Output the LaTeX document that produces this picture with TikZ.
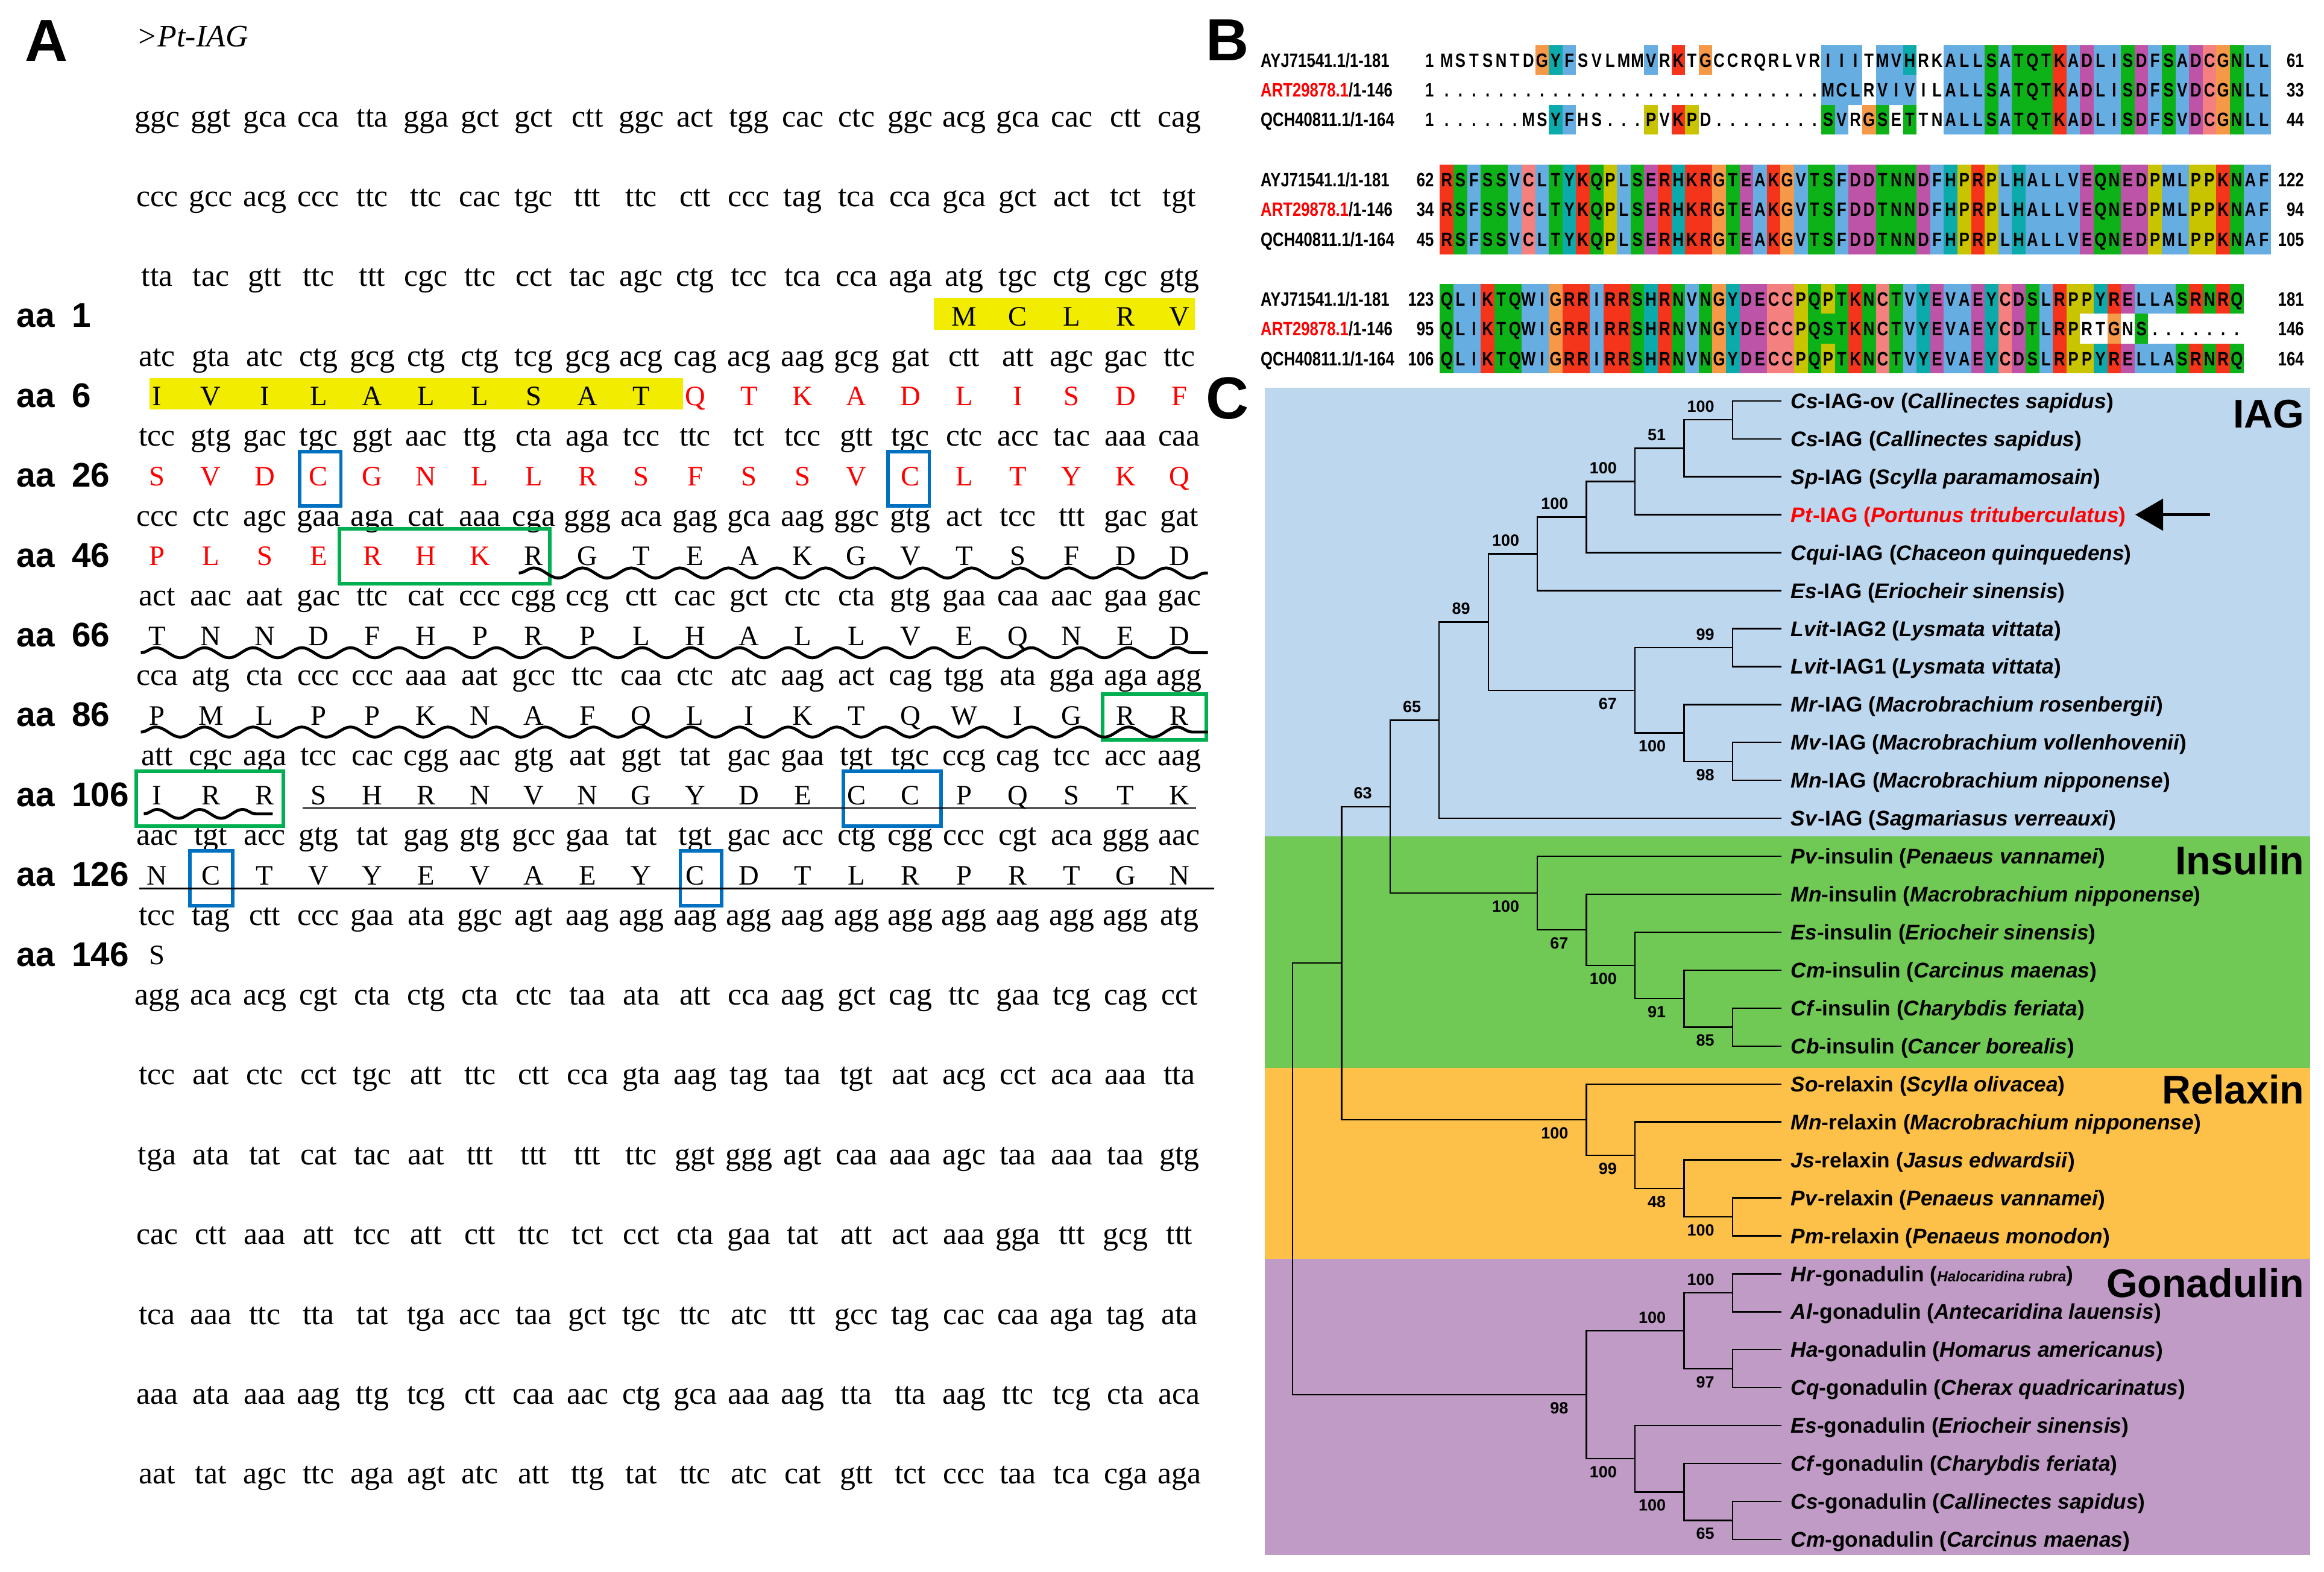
\documentclass[tikz,border=0pt]{standalone}
\usepackage{fontspec}
\setmainfont{Liberation Serif}
\newfontfamily\sansf{Liberation Sans}
\newfontfamily\alnf[FakeStretch=0.8]{Liberation Sans Bold}
\usetikzlibrary{positioning, arrows.meta, decorations.pathmorphing}

\definecolor{hlyellow}{RGB}{242,236,0}
\definecolor{boxblue}{RGB}{0,112,192}
\definecolor{boxgreen}{RGB}{0,176,80}
\definecolor{alnb}{RGB}{102,173,226}
\definecolor{alnr}{RGB}{245,52,28}
\definecolor{alng}{RGB}{12,178,24}
\definecolor{alnm}{RGB}{190,84,168}
\definecolor{alnp}{RGB}{245,128,128}
\definecolor{alno}{RGB}{245,152,72}
\definecolor{alny}{RGB}{200,196,0}
\definecolor{alnc}{RGB}{12,170,170}
\definecolor{iagbg}{RGB}{189,215,238}
\definecolor{insbg}{RGB}{112,200,85}
\definecolor{relbg}{RGB}{253,192,72}
\definecolor{gonbg}{RGB}{191,155,197}

% protein row under codon row #1: first column, red columns from-to, residues
\newcommand\aarow[5]{%
  \foreach \aares [count=\i from #2] in {#5} {%
    \ifnum\i<#3 \def\aacol{black}\else\ifnum\i>#4 \def\aacol{black}\else\def\aacol{red}\fi\fi
    \node[aa, text=\aacol] (a#1-\i) at ({106+(\i-1)*36.3},{105.9+(#1-1)*53.85}) {\aares};}}

\makeatletter
% alignment row: id, y, name, first, last, residues, colour codes
\newcommand\alnrow[7]{%
  \def\alnk{0}%
  \@tfor\alncode:=#7\do{%
    \edef\alnk{\the\numexpr\alnk+1\relax}%
    \if\alncode-\else
      \fill[fill=aln\alncode] ({971.5+(\alnk-1)*9.19},{#2-10.05}) rectangle ++(9.19,20.1);
    \fi}%
  \def\alnk{0}%
  \@tfor\alncode:=#6\do{%
    \edef\alnk{\the\numexpr\alnk+1\relax}%
    \node[res] (#1-\alnk) at ({971.5+(\alnk-0.5)*9.19},#2) {\alncode};}%
  \node[seqname] (#1-name) at (850.3,#2) {#3};
  \node[seqnum] (#1-first) at (967.7,#2) {#4};
  \node[seqnum] (#1-last) at (1554.7,#2) {#5};}
\makeatother

\begin{document}
\begin{tikzpicture}[x=0.025cm, y=-0.025cm,
  panel/.style={font=\sansf\bfseries\fontsize{28.5}{30}\selectfont, inner sep=0, text height=20.4pt, text depth=0pt},
  title/.style={font=\itshape\fontsize{15}{18}\selectfont, anchor=west, inner sep=0, text height=9.9pt, text depth=0pt},
  codon/.style={font=\fontsize{15}{18}\selectfont, inner sep=0, text height=6.9pt, text depth=0pt},
  aa/.style={font=\fontsize{13.5}{16}\selectfont, inner sep=0, text height=8.9pt, text depth=0pt},
  aalab/.style={font=\sansf\bfseries\fontsize{16.4}{18}\selectfont, anchor=west, inner sep=0, text height=11.7pt, text depth=0pt},
  hl/.style={fill=hlyellow},
  bbox/.style={draw=boxblue, line width=1.7pt},
  gbox/.style={draw=boxgreen, line width=1.7pt},
  wavy/.style={decorate, decoration={snake, segment length=0.82cm, amplitude=0.085cm}, line width=1.4pt},
  res/.style={font=\alnf\fontsize{9.3}{11}\selectfont, inner sep=0, text height=6.7pt, text depth=0pt},
  seqname/.style={font=\alnf\fontsize{9.3}{11}\selectfont, anchor=west, inner sep=0, text height=6.7pt, text depth=0pt},
  seqnum/.style={font=\alnf\fontsize{9.3}{11}\selectfont, anchor=east, inner sep=0, text height=6.7pt, text depth=0pt},
  leaf/.style={font=\sansf\bfseries\fontsize{10.2}{12}\selectfont, anchor=west, inner xsep=0.15cm, inner ysep=0, text height=7.3pt, text depth=0pt},
  boot/.style={font=\sansf\bfseries\fontsize{7.8}{9}\selectfont, inner sep=0, node distance=0.12cm and 0.3cm},
  branch/.style={line width=0.7pt},
  group/.style={font=\sansf\bfseries\fontsize{19.2}{21}\selectfont, anchor=east, inner sep=0, text height=13.7pt, text depth=0pt},
  ptarr/.style={-{Triangle[length=0.47cm,width=0.53cm]}, line width=1.6pt}]

\fill[white] (0,0) rectangle (1568,1060);
\useasboundingbox (0,0) rectangle (1568,1060);

% ---------------- A
\node[panel] (pa) at (31.5,27) {A};
\node[title] (ttl) at (92,24.5) {>Pt-IAG};

\fill[hl] (630,201.1) rectangle (806,222.4);
\fill[hl] (101,255) rectangle (461,276.3);

\foreach \cods [count=\rw] in {
  {ggc,ggt,gca,cca,tta,gga,gct,gct,ctt,ggc,act,tgg,cac,ctc,ggc,acg,gca,cac,ctt,cag},
  {ccc,gcc,acg,ccc,ttc,ttc,cac,tgc,ttt,ttc,ctt,ccc,tag,tca,cca,gca,gct,act,tct,tgt},
  {tta,tac,gtt,ttc,ttt,cgc,ttc,cct,tac,agc,ctg,tcc,tca,cca,aga,atg,tgc,ctg,cgc,gtg},
  {atc,gta,atc,ctg,gcg,ctg,ctg,tcg,gcg,acg,cag,acg,aag,gcg,gat,ctt,att,agc,gac,ttc},
  {tcc,gtg,gac,tgc,ggt,aac,ttg,cta,aga,tcc,ttc,tct,tcc,gtt,tgc,ctc,acc,tac,aaa,caa},
  {ccc,ctc,agc,gaa,aga,cat,aaa,cga,ggg,aca,gag,gca,aag,ggc,gtg,act,tcc,ttt,gac,gat},
  {act,aac,aat,gac,ttc,cat,ccc,cgg,ccg,ctt,cac,gct,ctc,cta,gtg,gaa,caa,aac,gaa,gac},
  {cca,atg,cta,ccc,ccc,aaa,aat,gcc,ttc,caa,ctc,atc,aag,act,cag,tgg,ata,gga,aga,agg},
  {att,cgc,aga,tcc,cac,cgg,aac,gtg,aat,ggt,tat,gac,gaa,tgt,tgc,ccg,cag,tcc,acc,aag},
  {aac,tgt,acc,gtg,tat,gag,gtg,gcc,gaa,tat,tgt,gac,acc,ctg,cgg,ccc,cgt,aca,ggg,aac},
  {tcc,tag,ctt,ccc,gaa,ata,ggc,agt,aag,agg,aag,agg,aag,agg,agg,agg,aag,agg,agg,atg},
  {agg,aca,acg,cgt,cta,ctg,cta,ctc,taa,ata,att,cca,aag,gct,cag,ttc,gaa,tcg,cag,cct},
  {tcc,aat,ctc,cct,tgc,att,ttc,ctt,cca,gta,aag,tag,taa,tgt,aat,acg,cct,aca,aaa,tta},
  {tga,ata,tat,cat,tac,aat,ttt,ttt,ttt,ttc,ggt,ggg,agt,caa,aaa,agc,taa,aaa,taa,gtg},
  {cac,ctt,aaa,att,tcc,att,ctt,ttc,tct,cct,cta,gaa,tat,att,act,aaa,gga,ttt,gcg,ttt},
  {tca,aaa,ttc,tta,tat,tga,acc,taa,gct,tgc,ttc,atc,ttt,gcc,tag,cac,caa,aga,tag,ata},
  {aaa,ata,aaa,aag,ttg,tcg,ctt,caa,aac,ctg,gca,aaa,aag,tta,tta,aag,ttc,tcg,cta,aca},
  {aat,tat,agc,ttc,aga,agt,atc,att,ttg,tat,ttc,atc,cat,gtt,tct,ccc,taa,tca,cga,aga}}
  \foreach \cd [count=\i] in \cods
    \node[codon] (d\rw-\i) at ({106+(\i-1)*36.3},{80.6+(\rw-1)*53.85}) {\cd};

\aarow{3}{16}{0}{0}{M,C,L,R,V}
\aarow{4}{1}{11}{20}{I,V,I,L,A,L,L,S,A,T,Q,T,K,A,D,L,I,S,D,F}
\aarow{5}{1}{1}{20}{S,V,D,C,G,N,L,L,R,S,F,S,S,V,C,L,T,Y,K,Q}
\aarow{6}{1}{1}{7}{P,L,S,E,R,H,K,R,G,T,E,A,K,G,V,T,S,F,D,D}
\aarow{7}{1}{0}{0}{T,N,N,D,F,H,P,R,P,L,H,A,L,L,V,E,Q,N,E,D}
\aarow{8}{1}{0}{0}{P,M,L,P,P,K,N,A,F,Q,L,I,K,T,Q,W,I,G,R,R}
\aarow{9}{1}{0}{0}{I,R,R,S,H,R,N,V,N,G,Y,D,E,C,C,P,Q,S,T,K}
\aarow{10}{1}{0}{0}{N,C,T,V,Y,E,V,A,E,Y,C,D,T,L,R,P,R,T,G,N}
\aarow{11}{1}{0}{0}{S}

\node[aalab] (aa1) at (11,212.6) {aa\enspace 1};
\node[aalab] (aa6) at (11,266.45) {aa\enspace 6};
\node[aalab] (aa26) at (11,320.3) {aa\enspace 26};
\node[aalab] (aa46) at (11,374.15) {aa\enspace 46};
\node[aalab] (aa66) at (11,428) {aa\enspace 66};
\node[aalab] (aa86) at (11,481.85) {aa\enspace 86};
\node[aalab] (aa106) at (11,535.7) {aa\enspace 106};
\node[aalab] (aa126) at (11,589.55) {aa\enspace 126};
\node[aalab] (aa146) at (11,643.4) {aa\enspace 146};

% boxes and lines
\draw[bbox] (202,304.5) rectangle (230,341.3);
\draw[bbox] (599,304.5) rectangle (627,341.3);
\draw[gbox] (229,356.8) rectangle (371,393.8);
\draw[gbox] (744,468) rectangle (814,499.1);
\draw[gbox] (92,520.2) rectangle (191,557.2);
\draw[bbox] (569,520.2) rectangle (635,557.2);
\draw[bbox] (128,574) rectangle (157,611);
\draw[bbox] (459,574) rectangle (487,611);

\draw[wavy] (350,386.5) -- (815,386.5);
\draw[wavy] (95,440.3) -- (815,440.3);
\draw[wavy] (95,493.8) -- (815,493.8);
\draw[wavy, decoration={segment length=0.72cm, amplitude=0.075cm}] (97,549) -- (184,549);
\draw[line width=0.6pt] (204,545) -- (807,545);
\draw[line width=0.9pt] (94,599.3) -- (819,599.3);

% ---------------- B
\node[panel] (pb) at (828,26.5) {B};

\alnrow{s1}{40.5}{AYJ71541.1/1-181}{1}{61}{MSTSNTDGYFSVLMMVRKTGCCRQRLVRIIITMVHRKALLSATQTKADLISDFSADCGNLL}{-------ocb-----b-r-o--------bbb-bbc--bbbgbgggrbmbbgmbgbmpogbb}
\alnrow{s2}{60.6}{{\color{red}ART29878.1}/1-146}{1}{33}{............................MCLRVIVILALLSATQTKADLISDFSVDCGNLL}{----------------------------bbb-bbb--bbbgbgggrbmbbgmbgbmpogbb}
\alnrow{s3}{80.7}{QCH40811.1/1-164}{1}{44}{......MSYFHS...PVKPD........SVRGSETTNALLSATQTKADLISDFSVDCGNLL}{--------cb-----y-ry---------gb-og-g--bbbgbgggrbmbbgmbgbmpogbb}

\alnrow{t1}{121.2}{AYJ71541.1/1-181}{62}{122}{RSFSSVCLTYKQPLSERHKRGTEAKGVTSFDDTNNDFHPRPLHALLVEQNEDPMLPPKNAF}{rgbggbpbgcrgybgmrcrrogmbrobggbmmgggmbcyrybcbbbbmggmmybbyyrgbb}
\alnrow{t2}{141.3}{{\color{red}ART29878.1}/1-146}{34}{94}{RSFSSVCLTYKQPLSERHKRGTEAKGVTSFDDTNNDFHPRPLHALLVEQNEDPMLPPKNAF}{rgbggbpbgcrgybgmrcrrogmbrobggbmmgggmbcyrybcbbbbmggmmybbyyrgbb}
\alnrow{t3}{161.4}{QCH40811.1/1-164}{45}{105}{RSFSSVCLTYKQPLSERHKRGTEAKGVTSFDDTNNDFHPRPLHALLVEQNEDPMLPPKNAF}{rgbggbpbgcrgybgmrcrrogmbrobggbmmgggmbcyrybcbbbbmggmmybbyyrgbb}

\alnrow{u1}{201.6}{AYJ71541.1/1-181}{123}{181}{QLIKTQWIGRRIRRSHRNVNGYDECCPQPTKNCTVYEVAEYCDSLRPPYRELLASRNRQ}{gbbrggbborrbrrgcrgbgocmmppygygrgpgbcmbbmcpmgbryycrmbbbgrgrg}
\alnrow{u2}{221.7}{{\color{red}ART29878.1}/1-146}{95}{146}{QLIKTQWIGRRIRRSHRNVNGYDECCPQSTKNCTVYEVAEYCDTLRPRTGNS.......}{gbbrggbborrbrrgcrgbgocmmppygggrgpgbcmbbmcpmgbry--o-g-------}
\alnrow{u3}{241.8}{QCH40811.1/1-164}{106}{164}{QLIKTQWIGRRIRRSHRNVNGYDECCPQPTKNCTVYEVAEYCDSLRPPYRELLASRNRQ}{gbbrggbborrbrrgcrgbgocmmppygygrgpgbcmbbmcpmgbryycrmbbbgrgrg}

% ---------------- C
\fill[iagbg] (853.2,261.7) rectangle (1558.5,564.2);
\fill[insbg] (853.2,564.2) rectangle (1558.5,720.4);
\fill[relbg] (853.2,720.4) rectangle (1558.5,849.4);
\fill[gonbg] (853.2,849.4) rectangle (1558.5,1049);
\node[panel] (pc) at (828,268) {C};

\node[group] (gi) at (1555,279) {IAG};
\node[group] (gn) at (1555,580.5) {Insulin};
\node[group] (gr) at (1555,735) {Relaxin};
\node[group] (gg) at (1555,865.3) {Gonadulin};

% internal nodes
\coordinate (rt) at (872.1,795.2);
\coordinate (nA) at (905.2,649.65);
\coordinate (nB) at (937.9,544.1);
\coordinate (nIAG) at (971,485.8);
\coordinate (n89) at (1004.2,419.6);
\coordinate (nc5) at (1037.3,373.6);
\coordinate (nc6) at (1070.4,348.8);
\coordinate (nc7) at (1103.1,324.8);
\coordinate (nc8) at (1136.2,302.4);
\coordinate (nc9) at (1168.9,283.2);
\coordinate (ns7) at (1103.1,465.6);
\coordinate (ns9a) at (1168.9,436.8);
\coordinate (ns8) at (1136.2,494.4);
\coordinate (ns9b) at (1168.9,513.6);
\coordinate (ni5) at (1037.3,602.4);
\coordinate (ni6) at (1070.4,627.2);
\coordinate (ni7) at (1103.1,651.2);
\coordinate (ni8) at (1136.2,673.6);
\coordinate (ni9) at (1168.9,692.8);
\coordinate (nr6) at (1070.4,755.2);
\coordinate (nr7) at (1103.1,779.2);
\coordinate (nr8) at (1136.2,801.6);
\coordinate (nr9) at (1168.9,820.8);
\coordinate (ng6) at (1070.4,940.8);
\coordinate (ng8a) at (1136.2,897.6);
\coordinate (ng9a) at (1168.9,872);
\coordinate (ng9b) at (1168.9,923.2);
\coordinate (ng7) at (1103.1,984);
\coordinate (ng8b) at (1136.2,1006.4);
\coordinate (ng9c) at (1168.9,1025.6);

% leaves
\node[leaf] (l1) at (1202.1,270.4) {\textit{Cs}-IAG-ov (\textit{Callinectes sapidus})};
\node[leaf] (l2) at (1202.1,296) {\textit{Cs}-IAG (\textit{Callinectes sapidus})};
\node[leaf] (l3) at (1202.1,321.6) {\textit{Sp}-IAG (\textit{Scylla paramamosain})};
\node[leaf, text=red] (l4) at (1202.1,347.2) {\textit{Pt}-IAG (\textit{Portunus trituberculatus})};
\node[leaf] (l5) at (1202.1,372.8) {\textit{Cqui}-IAG (\textit{Chaceon quinquedens})};
\node[leaf] (l6) at (1202.1,398.4) {\textit{Es}-IAG (\textit{Eriocheir sinensis})};
\node[leaf] (l7) at (1202.1,424) {\textit{Lvit}-IAG2 (\textit{Lysmata vittata})};
\node[leaf] (l8) at (1202.1,449.6) {\textit{Lvit}-IAG1 (\textit{Lysmata vittata})};
\node[leaf] (l9) at (1202.1,475.2) {\textit{Mr}-IAG (\textit{Macrobrachium rosenbergii})};
\node[leaf] (l10) at (1202.1,500.8) {\textit{Mv}-IAG (\textit{Macrobrachium vollenhovenii})};
\node[leaf] (l11) at (1202.1,526.4) {\textit{Mn}-IAG (\textit{Macrobrachium nipponense})};
\node[leaf] (l12) at (1202.1,552) {\textit{Sv}-IAG (\textit{Sagmariasus verreauxi})};
\node[leaf] (l13) at (1202.1,577.6) {\textit{Pv}-insulin (\textit{Penaeus vannamei})};
\node[leaf] (l14) at (1202.1,603.2) {\textit{Mn}-insulin (\textit{Macrobrachium nipponense})};
\node[leaf] (l15) at (1202.1,628.8) {\textit{Es}-insulin (\textit{Eriocheir sinensis})};
\node[leaf] (l16) at (1202.1,654.4) {\textit{Cm}-insulin (\textit{Carcinus maenas})};
\node[leaf] (l17) at (1202.1,680) {\textit{Cf}-insulin (\textit{Charybdis feriata})};
\node[leaf] (l18) at (1202.1,705.6) {\textit{Cb}-insulin (\textit{Cancer borealis})};
\node[leaf] (l19) at (1202.1,731.2) {\textit{So}-relaxin (\textit{Scylla olivacea})};
\node[leaf] (l20) at (1202.1,756.8) {\textit{Mn}-relaxin (\textit{Macrobrachium nipponense})};
\node[leaf] (l21) at (1202.1,782.4) {\textit{Js}-relaxin (\textit{Jasus edwardsii})};
\node[leaf] (l22) at (1202.1,808) {\textit{Pv}-relaxin (\textit{Penaeus vannamei})};
\node[leaf] (l23) at (1202.1,833.6) {\textit{Pm}-relaxin (\textit{Penaeus monodon})};
\node[leaf] (l24) at (1202.1,859.2) {\textit{Hr}-gonadulin ({\fontsize{7}{8}\selectfont\itshape Halocaridina rubra})};
\node[leaf] (l25) at (1202.1,884.8) {\textit{Al}-gonadulin (\textit{Antecaridina lauensis})};
\node[leaf] (l26) at (1202.1,910.4) {\textit{Ha}-gonadulin (\textit{Homarus americanus})};
\node[leaf] (l27) at (1202.1,936) {\textit{Cq}-gonadulin (\textit{Cherax quadricarinatus})};
\node[leaf] (l28) at (1202.1,961.6) {\textit{Es}-gonadulin (\textit{Eriocheir sinensis})};
\node[leaf] (l29) at (1202.1,987.2) {\textit{Cf}-gonadulin (\textit{Charybdis feriata})};
\node[leaf] (l30) at (1202.1,1012.8) {\textit{Cs}-gonadulin (\textit{Callinectes sapidus})};
\node[leaf] (l31) at (1202.1,1038.4) {\textit{Cm}-gonadulin (\textit{Carcinus maenas})};

% branches
\draw[branch] (rt) |- (nA) (rt) |- (ng6);
\draw[branch] (nA) |- (nB) (nA) |- (nr6);
\draw[branch] (nB) |- (nIAG) (nB) |- (ni5);
\draw[branch] (nIAG) |- (n89) (nIAG) |- (l12.west);
\draw[branch] (n89) |- (nc5) (n89) |- (ns7);
\draw[branch] (nc5) |- (nc6) (nc5) |- (l6.west);
\draw[branch] (nc6) |- (nc7) (nc6) |- (l5.west);
\draw[branch] (nc7) |- (nc8) (nc7) |- (l4.west);
\draw[branch] (nc8) |- (nc9) (nc8) |- (l3.west);
\draw[branch] (nc9) |- (l1.west) (nc9) |- (l2.west);
\draw[branch] (ns7) |- (ns9a) (ns7) |- (ns8);
\draw[branch] (ns9a) |- (l7.west) (ns9a) |- (l8.west);
\draw[branch] (ns8) |- (l9.west) (ns8) |- (ns9b);
\draw[branch] (ns9b) |- (l10.west) (ns9b) |- (l11.west);
\draw[branch] (ni5) |- (l13.west) (ni5) |- (ni6);
\draw[branch] (ni6) |- (l14.west) (ni6) |- (ni7);
\draw[branch] (ni7) |- (l15.west) (ni7) |- (ni8);
\draw[branch] (ni8) |- (l16.west) (ni8) |- (ni9);
\draw[branch] (ni9) |- (l17.west) (ni9) |- (l18.west);
\draw[branch] (nr6) |- (l19.west) (nr6) |- (nr7);
\draw[branch] (nr7) |- (l20.west) (nr7) |- (nr8);
\draw[branch] (nr8) |- (l21.west) (nr8) |- (nr9);
\draw[branch] (nr9) |- (l22.west) (nr9) |- (l23.west);
\draw[branch] (ng6) |- (ng8a) (ng6) |- (ng7);
\draw[branch] (ng8a) |- (ng9a) (ng8a) |- (ng9b);
\draw[branch] (ng9a) |- (l24.west) (ng9a) |- (l25.west);
\draw[branch] (ng9b) |- (l26.west) (ng9b) |- (l27.west);
\draw[branch] (ng7) |- (l28.west) (ng7) |- (ng8b);
\draw[branch] (ng8b) |- (l29.west) (ng8b) |- (ng9c);
\draw[branch] (ng9c) |- (l30.west) (ng9c) |- (l31.west);

% bootstrap values
\node[boot, above left=of nc9] (b1) {100};
\node[boot, above left=of nc8] (b2) {51};
\node[boot, above left=of nc7] (b3) {100};
\node[boot, above left=of nc6] (b4) {100};
\node[boot, above left=of nc5] (b5) {100};
\node[boot, above left=of n89] (b6) {89};
\node[boot, above left=of ns9a] (b7) {99};
\node[boot, below left=of ns7] (b8) {67};
\node[boot, below left=of ns8] (b9) {100};
\node[boot, below left=of ns9b] (b10) {98};
\node[boot, above left=of nIAG] (b11) {65};
\node[boot, above left=of nB] (b12) {63};
\node[boot, below left=of ni5] (b13) {100};
\node[boot, below left=of ni6] (b14) {67};
\node[boot, below left=of ni7] (b15) {100};
\node[boot, below left=of ni8] (b16) {91};
\node[boot, below left=of ni9] (b17) {85};
\node[boot, below left=of nr6] (b18) {100};
\node[boot, below left=of nr7] (b19) {99};
\node[boot, below left=of nr8] (b20) {48};
\node[boot, below left=of nr9] (b21) {100};
\node[boot, above left=of ng9a] (b22) {100};
\node[boot, above left=of ng8a] (b23) {100};
\node[boot, below left=of ng9b] (b24) {97};
\node[boot, below left=of ng6] (b25) {98};
\node[boot, below left=of ng7] (b26) {100};
\node[boot, below left=of ng8b] (b27) {100};
\node[boot, below left=of ng9c] (b28) {65};

\coordinate (ptarrow) at (1491,347.2);
\draw[ptarr] (ptarrow) -- (l4.east);

\end{tikzpicture}
\end{document}
